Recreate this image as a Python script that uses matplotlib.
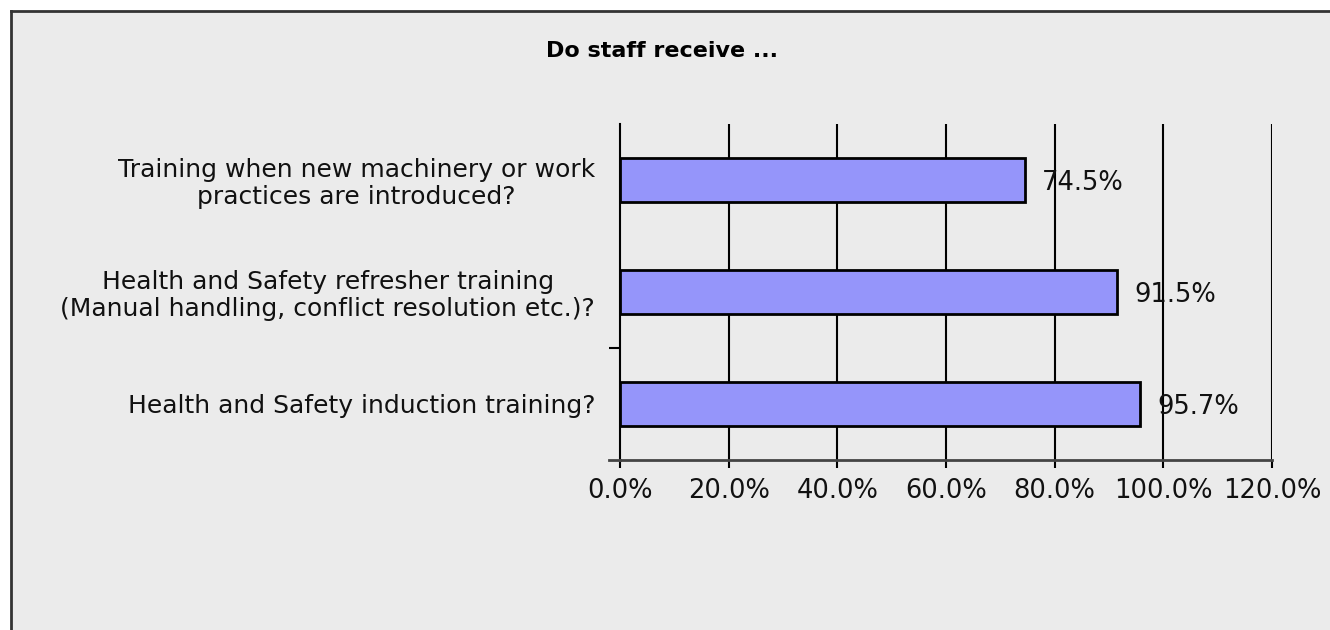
import matplotlib
matplotlib.use("Agg")
import matplotlib.pyplot as plt
from matplotlib.patches import Rectangle
from matplotlib.lines import Line2D

categories = [
    "Health and Safety induction training?",
    "Health and Safety refresher training\n(Manual handling, conflict resolution etc.)?",
    "Training when new machinery or work\npractices are introduced?",
]
values = [95.7, 91.5, 74.5]
xticks = [0, 20, 40, 60, 80, 100, 120]
xtick_labels = ["0.0%", "20.0%", "40.0%", "60.0%", "80.0%", "100.0%", "120.0%"]
title = "Do staff receive ..."

W, H = 1330, 630
fig = plt.figure(figsize=(W / 100, H / 100), dpi=100)
fig.patch.set_facecolor("white")
bg = "#ebebeb"
fig.patches.append(Rectangle((11 / W, 0), 1, 1 - 11 / H, transform=fig.transFigure,
                             facecolor=bg, edgecolor="none", zorder=-10))
fig.lines.append(Line2D([11 / W, 11 / W], [0, 1 - 11 / H], transform=fig.transFigure,
                        color="#333333", lw=2, zorder=-9))
fig.lines.append(Line2D([11 / W, 1], [1 - 11 / H, 1 - 11 / H], transform=fig.transFigure,
                        color="#333333", lw=2, zorder=-9))

ax = fig.add_axes([620 / W, 1 - 460 / H, (1272 - 620) / W, (460 - 124) / H])
ax.set_facecolor(bg)
ypos = list(range(len(categories)))
ax.barh(ypos, values, height=0.4, color="#9595fa", edgecolor="black", linewidth=2, zorder=3)
ax.set_xlim(0, 120)
ax.set_ylim(-0.5, len(categories) - 0.5)

for x in xticks[1:]:
    ax.axvline(x, color="black", lw=1.5, zorder=1)

for s in ["top", "right"]:
    ax.spines[s].set_visible(False)
ax.spines["left"].set_linewidth(1.5)
ax.spines["bottom"].set_linewidth(2)
ax.spines["bottom"].set_color("#444444")
fig.lines.append(Line2D([609 / W, 620 / W], [1 - 460 / H, 1 - 460 / H], transform=fig.transFigure,
                        color="#444444", lw=2))

font = "DejaVu Sans"
ax.set_xticks(xticks)
ax.set_xticklabels(xtick_labels, fontsize=18.5, family=font, color="#111111")
ax.tick_params(axis="x", length=6, width=1.5, pad=7, direction="out")
ax.set_yticks(ypos)
ax.set_yticklabels(categories, fontsize=18, family=font, color="#111111",
                   multialignment="center", linespacing=1.15)
ax.tick_params(axis="y", which="major", length=0, pad=18)
ax.set_yticks([0.5], minor=True)
ax.tick_params(axis="y", which="minor", length=8, width=1.5)

for y, v in zip(ypos, values):
    ax.text(v + 3.2, y - 0.03, f"{v:.1f}%", va="center", ha="left", fontsize=18.5, family=font,
            color="#111111", zorder=4)

fig.text(662 / W, 1 - 51 / H, title, ha="center", va="center", fontsize=16,
         fontweight="bold", family=font)

fig.savefig("out.png", dpi=100)
